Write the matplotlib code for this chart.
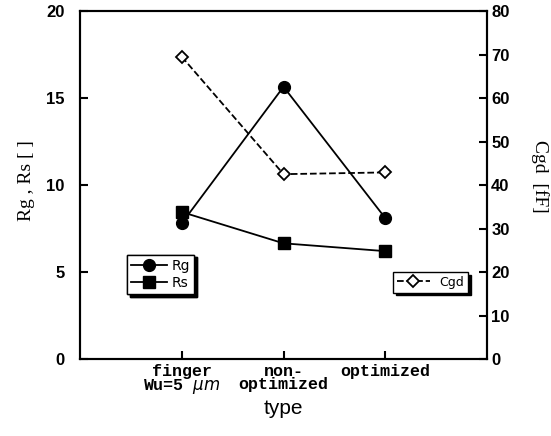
import numpy as np
import matplotlib.pyplot as plt

types = ['finger\nWu=5 $\\mu m$', 'non-\noptimized', 'optimized']
xpos = [1, 2, 3]
rg = [7.8, 15.65, 8.1]
rs = [8.45, 6.65, 6.2]
cgd = [69.5, 42.5, 42.9]

fig = plt.figure(figsize=(5.51, 4.36), dpi=100)
ax = fig.add_axes([0.1452, 0.1766, 0.7387, 0.798])
ax2 = ax.twinx()

l1, = ax.plot(xpos, rg, 'k-', marker='o', ms=8.5, lw=1.3, label='Rg')
l2, = ax.plot(xpos, rs, 'k-', marker='s', ms=8.5, lw=1.3, label='Rs')
l3, = ax2.plot(xpos, cgd, 'k--', marker='D', ms=6.5, mfc='white', mew=1.3, lw=1.3, label='Cgd')

ax.set_xlim(0, 4)
ax.set_ylim(0, 20)
ax2.set_ylim(0, 80)
ax.set_xticks(xpos)
ax.set_xticklabels(types, fontfamily='Liberation Mono', fontweight='bold', fontsize=12, linespacing=0.85)
ax.set_yticks([0, 5, 10, 15, 20])
ax2.set_yticks(np.arange(0, 81, 10))
for a in (ax, ax2):
    for s in a.spines.values():
        s.set_linewidth(1.5)
ax.tick_params(axis='both', direction='in', width=1.5, length=6, labelsize=12)
ax.tick_params(axis='y', pad=11)
ax2.tick_params(axis='y', direction='in', width=1.5, length=6, labelsize=12, pad=3)
for lab in ax.get_yticklabels() + ax2.get_yticklabels():
    lab.set_fontfamily('Liberation Sans')
    lab.set_fontweight('bold')

ax.set_xlabel('type', fontfamily='Liberation Sans', fontsize=15, labelpad=2)
ax.set_ylabel('Rg , Rs [ ]', fontfamily='Liberation Serif', fontsize=14)
ax2.set_ylabel('Cgd  [fF]', fontfamily='Liberation Serif', fontsize=14, rotation=-90)
ax.yaxis.set_label_coords(-0.11, 0.514)
ax2.yaxis.set_label_coords(1.152, 0.526)

leg1 = ax.legend(handles=[l1, l2], loc='upper left', bbox_to_anchor=(0.115, 0.30),
                 frameon=True, fancybox=False, shadow={'color': 'black', 'alpha': 1},
                 edgecolor='black', fontsize=10, handlelength=2.6, borderpad=0.3,
                 labelspacing=0.25, handletextpad=0.3, borderaxespad=0)
leg1.get_frame().set_linewidth(1.0)
ax.add_artist(leg1)
leg2 = ax2.legend(handles=[l3], loc='upper left', bbox_to_anchor=(0.77, 0.25),
                  frameon=True, fancybox=False, shadow={'color': 'black', 'alpha': 1},
                  edgecolor='black', fontsize=9, handlelength=2.6, borderpad=0.3,
                  handletextpad=0.8, borderaxespad=0)
leg2.get_frame().set_linewidth(1.0)

fig.savefig('out.png', dpi=100)
